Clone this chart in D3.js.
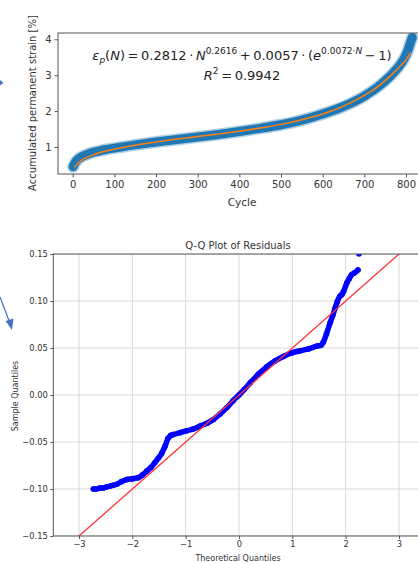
<!DOCTYPE html>
<html>
<head>
<meta charset="utf-8">
<script src="https://cdn.jsdelivr.net/npm/d3@7"></script>
<style>
body { margin: 0; background: #fff; }
svg { display: block; font-family: "DejaVu Sans", sans-serif; }
</style>
</head>
<body>
<svg id="chart" width="418" height="563"></svg>
<script>
// Data
// top: accumulated permanent strain vs cycle
const measCycle  = [1, 4, 8, 15, 25, 40, 60, 80, 100, 150, 200, 250, 300, 350, 400, 450, 500, 550, 600, 650, 700, 730, 760, 780, 795, 805, 810, 815];
const measStrain = [0.45, 0.52, 0.60, 0.68, 0.75, 0.82, 0.88, 0.93, 0.97, 1.06, 1.14, 1.21, 1.28, 1.35, 1.43, 1.52, 1.62, 1.75, 1.92, 2.13, 2.42, 2.65, 2.95, 3.20, 3.45, 3.70, 3.88, 4.05];
const fitCycle   = [5, 10, 20, 40, 70, 100, 150, 200, 250, 300, 350, 400, 450, 500, 550, 600, 650, 700, 725, 750, 775, 790, 800, 811];
const fitStrain  = [0.43, 0.51, 0.62, 0.74, 0.86, 0.94, 1.05, 1.14, 1.22, 1.29, 1.36, 1.44, 1.53, 1.63, 1.76, 1.92, 2.14, 2.44, 2.62, 2.85, 3.12, 3.30, 3.42, 3.63];
const cycleTicks  = [0, 100, 200, 300, 400, 500, 600, 700, 800];
const strainTicks = [1, 2, 3, 4];

// bottom: Q-Q plot of residuals
const qqTheo   = [-2.73,-2.67,-2.61,-2.55,-2.49,-2.42,-2.36,-2.29,-2.20,-2.11,-2.00,-1.89,-1.81,-1.73,-1.65,-1.58,-1.51,-1.45,-1.39,-1.33,-1.28,-1.23,-1.10,-0.98,-0.85,-0.73,-0.60,-0.48,-0.35,-0.22,-0.11,0.00,0.10,0.21,0.36,0.52,0.67,0.83,1.00,1.14,1.30,1.46,1.54,1.58,1.64,1.71,1.76,1.80,1.84,1.89,1.93,1.96,2.02,2.07,2.11,2.17,2.23,2.25];
const qqSample = [-0.100,-0.100,-0.099,-0.099,-0.098,-0.097,-0.096,-0.095,-0.092,-0.090,-0.089,-0.088,-0.085,-0.081,-0.077,-0.072,-0.067,-0.062,-0.055,-0.046,-0.043,-0.042,-0.040,-0.038,-0.036,-0.033,-0.030,-0.026,-0.020,-0.013,-0.006,0.000,0.006,0.013,0.022,0.030,0.036,0.041,0.045,0.047,0.049,0.052,0.053,0.056,0.065,0.077,0.085,0.092,0.099,0.105,0.107,0.110,0.119,0.124,0.128,0.130,0.133,0.150];
const refTheo   = [-3.5, 3.5];
const refSample = [-0.175, 0.175];
const qqXTicks = [-3, -2, -1, 0, 1, 2, 3];
const qqYTicks = [-0.15, -0.10, -0.05, 0.00, 0.05, 0.10, 0.15];

const svg = d3.select("#chart");
const defs = svg.append("defs");

// ---------- top chart ----------
const top1 = {left: 58, right: 420, top: 33, bottom: 174};
const x1 = d3.scaleLinear().domain([0, 800]).range([72.7, 406]);
const y1 = d3.scaleLinear().domain([1, 4]).range([147, 39.3]);

defs.append("clipPath").attr("id", "clip1").append("rect")
    .attr("x", top1.left).attr("y", top1.top)
    .attr("width", top1.right - top1.left).attr("height", top1.bottom - top1.top);

const g1 = svg.append("g");
const plot1 = g1.append("g").attr("clip-path", "url(#clip1)");

const meas = measCycle.map((c, i) => ({c, v: measStrain[i]}));
const fit = fitCycle.map((c, i) => ({c, v: fitStrain[i]}));
const line1 = d3.line().x(d => x1(d.c)).y(d => y1(d.v)).curve(d3.curveMonotoneX);

plot1.append("path").attr("d", line1(meas))
    .attr("fill", "none").attr("stroke", "#1f77b4").attr("stroke-opacity", 0.35)
    .attr("stroke-width", 12).attr("stroke-linecap", "round");
plot1.append("path").attr("d", line1(meas))
    .attr("fill", "none").attr("stroke", "#1f77b4")
    .attr("stroke-width", 9).attr("stroke-linecap", "round");
plot1.append("path").attr("d", line1(fit))
    .attr("fill", "none").attr("stroke", "#ff7f0e").attr("stroke-width", 1.5);

g1.append("rect")
    .attr("x", top1.left).attr("y", top1.top)
    .attr("width", top1.right - top1.left).attr("height", top1.bottom - top1.top)
    .attr("fill", "none").attr("stroke", "#555").attr("stroke-width", 1);

const ax1 = g1.append("g").attr("transform", `translate(0,${top1.bottom})`)
    .call(d3.axisBottom(x1).tickValues(cycleTicks).tickSize(3.5).tickPadding(3).tickFormat(d3.format("d")));
const ay1 = g1.append("g").attr("transform", `translate(${top1.left},0)`)
    .call(d3.axisLeft(y1).tickValues(strainTicks).tickSize(3.5).tickPadding(3).tickFormat(d3.format("d")));
[ax1, ay1].forEach(a => {
  a.select(".domain").remove();
  a.selectAll("line").attr("stroke", "#555");
  a.selectAll("text").attr("fill", "#333").style("font-size", "10px").style("font-family", "DejaVu Sans");
});

g1.append("text").attr("x", 242).attr("y", 206).attr("text-anchor", "middle")
    .attr("fill", "#333").style("font-size", "10.5px").text("Cycle");
g1.append("text").attr("transform", "translate(36,103) rotate(-90)")
    .attr("text-anchor", "middle").attr("fill", "#333").style("font-size", "10px")
    .text("Accumulated permanent strain [%]");

// equation
const thin = "\u2009";
const eq = g1.append("text").attr("x", 242).attr("y", 60).attr("text-anchor", "middle")
    .attr("fill", "#222").style("font-size", "13px");
eq.append("tspan").style("font-style", "italic").text("\u03b5");
eq.append("tspan").style("font-style", "italic").style("font-size", "9px").attr("dy", 3).text("p");
eq.append("tspan").attr("dy", -3).text("(");
eq.append("tspan").style("font-style", "italic").text("N");
eq.append("tspan").text(`)${thin}=${thin}0.2812${thin}\u00b7${thin}`);
eq.append("tspan").style("font-style", "italic").text("N");
eq.append("tspan").style("font-size", "9px").attr("dy", -6).text("0.2616");
eq.append("tspan").attr("dy", 6).text(`${thin}+${thin}0.0057${thin}\u00b7${thin}(`);
eq.append("tspan").style("font-style", "italic").text("e");
eq.append("tspan").style("font-size", "9px").attr("dy", -6).text("0.0072\u00b7");
eq.append("tspan").style("font-size", "9px").style("font-style", "italic").text("N");
eq.append("tspan").attr("dy", 6).text(`${thin}\u2212${thin}1)`);

const r2 = g1.append("text").attr("x", 242).attr("y", 80).attr("text-anchor", "middle")
    .attr("fill", "#222").style("font-size", "13px");
r2.append("tspan").style("font-style", "italic").text("R");
r2.append("tspan").style("font-size", "9px").attr("dy", -6).text("2");
r2.append("tspan").attr("dy", 6).text(`${thin}=${thin}0.9942`);

// small arrow tip at left edge
svg.append("path").attr("d", "M0,80 L3.5,82.8 L0,85.6 Z").attr("fill", "#4472c4");

// ---------- bottom chart (Q-Q) ----------
const b = {left: 53.3, right: 420, top: 254, bottom: 536};
const x2 = d3.scaleLinear().domain([-3, 3]).range([79, 399]);
const y2 = d3.scaleLinear().domain([-0.15, 0.15]).range([b.bottom, b.top]);

defs.append("clipPath").attr("id", "clip2").append("rect")
    .attr("x", b.left).attr("y", b.top)
    .attr("width", b.right - b.left).attr("height", b.bottom - b.top);

const g2 = svg.append("g");
const grid = g2.append("g").attr("clip-path", "url(#clip2)");
grid.selectAll(".gx").data(qqXTicks).enter().append("line")
    .attr("x1", d => x2(d)).attr("x2", d => x2(d)).attr("y1", b.top).attr("y2", b.bottom)
    .attr("stroke", "#d9d9d9").attr("stroke-width", 1);
grid.selectAll(".gy").data(qqYTicks).enter().append("line")
    .attr("x1", b.left).attr("x2", b.right).attr("y1", d => y2(d)).attr("y2", d => y2(d))
    .attr("stroke", "#d9d9d9").attr("stroke-width", 1);

const plot2 = g2.append("g").attr("clip-path", "url(#clip2)");
const qq = qqTheo.map((q, i) => ({q, v: qqSample[i]}));
const line2 = d3.line().x(d => x2(d.q)).y(d => y2(d.v)).curve(d3.curveMonotoneX);

plot2.append("path").attr("d", line2(qq.slice(0, qq.length - 1)))
    .attr("fill", "none").attr("stroke", "#0000ff")
    .attr("stroke-width", 5.5).attr("stroke-linecap", "round").attr("stroke-linejoin", "round");
plot2.selectAll("circle").data(qq).enter().append("circle")
    .attr("cx", d => x2(d.q)).attr("cy", d => y2(d.v)).attr("r", 2.8)
    .attr("fill", "#0000ff");

const ref = refTheo.map((q, i) => ({q, v: refSample[i]}));
plot2.append("path").attr("d", d3.line().x(d => x2(d.q)).y(d => y2(d.v))(ref))
    .attr("fill", "none").attr("stroke", "#ff3333").attr("stroke-width", 1.3);

g2.append("rect")
    .attr("x", b.left).attr("y", b.top)
    .attr("width", b.right - b.left).attr("height", b.bottom - b.top)
    .attr("fill", "none").attr("stroke", "#555").attr("stroke-width", 1);

const ax2 = g2.append("g").attr("transform", `translate(0,${b.bottom})`)
    .call(d3.axisBottom(x2).tickValues(qqXTicks).tickSize(3).tickPadding(2.5).tickFormat(d3.format("d")));
const ay2 = g2.append("g").attr("transform", `translate(${b.left},0)`)
    .call(d3.axisLeft(y2).tickValues(qqYTicks).tickSize(3).tickPadding(2.5).tickFormat(d3.format(".2f")));
[ax2, ay2].forEach(a => {
  a.select(".domain").remove();
  a.selectAll("line").attr("stroke", "#555");
  a.selectAll("text").attr("fill", "#333").style("font-size", "8.3px").style("font-family", "DejaVu Sans");
});

g2.append("text").attr("x", 238).attr("y", 249).attr("text-anchor", "middle")
    .attr("fill", "#333").style("font-size", "10px").text("Q-Q Plot of Residuals");
g2.append("text").attr("x", 238).attr("y", 561).attr("text-anchor", "middle")
    .attr("fill", "#333").style("font-size", "8px").text("Theoretical Quantiles");
g2.append("text").attr("transform", "translate(18,396) rotate(-90)")
    .attr("text-anchor", "middle").attr("fill", "#333").style("font-size", "8px")
    .text("Sample Quantiles");

// annotation arrow at left
svg.append("line").attr("x1", 0).attr("y1", 297).attr("x2", 9.5).attr("y2", 322)
    .attr("stroke", "#4472c4").attr("stroke-width", 1.2);
svg.append("path").attr("d", "M5.5,321 L13.5,318.5 L12,330 Z").attr("fill", "#4472c4");
</script>
</body>
</html>
